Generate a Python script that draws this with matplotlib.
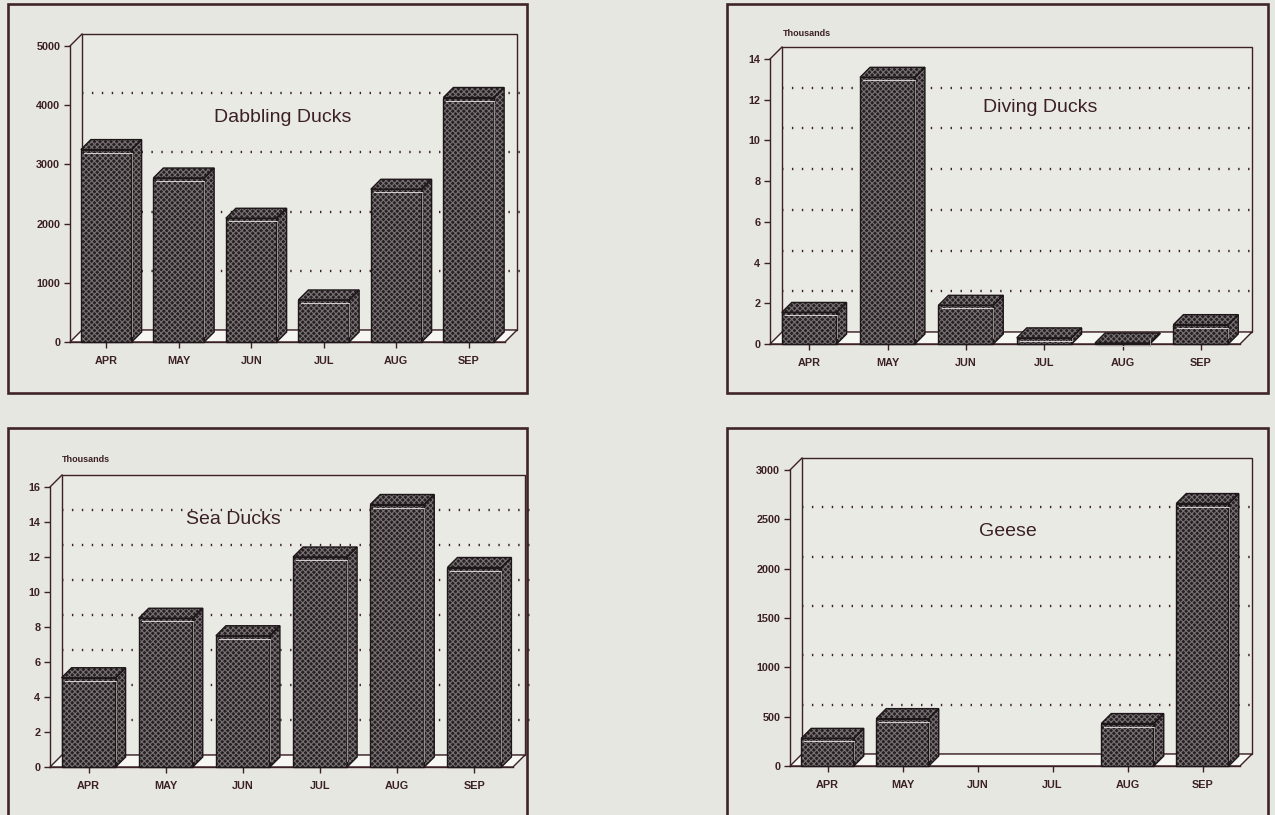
import matplotlib
matplotlib.use("Agg")
import matplotlib.pyplot as plt
from matplotlib.patches import Polygon, Rectangle

# ---- data -------------------------------------------------------------
months = ["APR", "MAY", "JUN", "JUL", "AUG", "SEP"]

dabbling = [3250, 2770, 2090, 710, 2580, 4130]
diving = [1.55, 13.1, 1.9, 0.3, 0.05, 0.95]      # thousands
sea = [5.1, 8.5, 7.5, 12.0, 15.0, 11.4]           # thousands
geese = [280, 480, 0, 0, 430, 2660]

dabbling_ticks = [0, 1000, 2000, 3000, 4000, 5000]
diving_ticks = [0, 2, 4, 6, 8, 10, 12, 14]
sea_ticks = [0, 2, 4, 6, 8, 10, 12, 14, 16]
geese_ticks = [0, 500, 1000, 1500, 2000, 2500, 3000]

titles = ["Dabbling Ducks", "Diving Ducks", "Sea Ducks", "Geese"]

# ---- style ------------------------------------------------------------
W, H, DPI = 1275, 815, 100
BG = "#e7e7e1"
WALL = "#eaeae5"
FLOOR = "#f6f6f2"
INK = "#3b2025"
FRAME = "#3f2529"
BAR = "#272022"
HATCH = "#777173"
FONT = "Liberation Sans"
DEPTH = 12      # px, floor / back wall offset
BAR_DEPTH = 10  # px
BAR_W = 0.70

plt.rcParams["hatch.linewidth"] = 0.8
plt.rcParams["font.family"] = [FONT, "DejaVu Sans"]

fig = plt.figure(figsize=(W / DPI, H / DPI), dpi=DPI, facecolor=BG)


def fx(x):
    return x / W


def fy(y):
    return 1 - y / H


def frame(x0, y0, x1, y1):
    fig.add_artist(Rectangle((fx(x0), fy(y1)), fx(x1) - fx(x0), fy(y0) - fy(y1),
                             transform=fig.transFigure, fill=False,
                             ec=FRAME, lw=1.9, zorder=0))


def panel(box, plot, values, ticks, title, title_xy, thousands_xy=None):
    frame(*box)
    x0, x1, base, top = plot
    ymax = ticks[-1]
    ax = fig.add_axes([fx(x0), fy(base), fx(x1) - fx(x0), fy(top) - fy(base)])
    ax.set_xlim(-0.5, 5.5)
    ax.set_ylim(0, ymax)
    ax.patch.set_visible(False)
    for s in ("top", "right"):
        ax.spines[s].set_visible(False)
    for s in ("left", "bottom"):
        ax.spines[s].set_color(INK)
        ax.spines[s].set_linewidth(1.0)
        ax.spines[s].set_zorder(2.6)

    pxx = (x1 - x0) / 6.0
    pxy = (base - top) / ymax
    dx, dy = DEPTH / pxx, DEPTH / pxy
    bdx, bdy = BAR_DEPTH / pxx, BAR_DEPTH / pxy

    # back wall
    ax.add_patch(Polygon([(-0.5 + dx, dy), (5.5 + dx, dy), (5.5 + dx, ymax + dy),
                          (-0.5 + dx, ymax + dy)], closed=True, fc=WALL,
                         ec=INK, lw=1.0, zorder=1, clip_on=False))
    ax.plot([-0.5, -0.5 + dx], [ymax, ymax + dy], color=INK, lw=1.0,
            clip_on=False, zorder=1.2)

    # dotted grid on the back wall
    for t in ticks[1:-1]:
        ax.plot([-0.5 + dx, 5.5 + dx + 0.07], [t + dy, t + dy], color=INK,
                lw=1.7, dashes=(0.6, 3.6), clip_on=False, zorder=1.5)

    # floor
    ax.add_patch(Polygon([(-0.5, 0), (5.5, 0), (5.5 + dx, dy), (-0.5 + dx, dy)],
                         closed=True, fc=FLOOR, ec=INK, lw=1.0, zorder=2,
                         clip_on=False))

    # 3-D bars
    for i, v in enumerate(values):
        if v <= 0:
            continue
        xl, xr = i - BAR_W / 2, i + BAR_W / 2
        faces = [
            [(xl, 0), (xr, 0), (xr, v), (xl, v)],
            [(xl, v), (xr, v), (xr + bdx, v + bdy), (xl + bdx, v + bdy)],
            [(xr, 0), (xr + bdx, bdy), (xr + bdx, v + bdy), (xr, v)],
        ]
        for f in faces:
            ax.add_patch(Polygon(f, closed=True, fc=BAR, ec=HATCH, lw=0,
                                 hatch="xxxxxx", zorder=3, clip_on=False))
            ax.add_patch(Polygon(f, closed=True, fill=False, ec="#1e1719",
                                 lw=1.0, zorder=3.1, clip_on=False))
        ax.plot([xl + 0.04, xr], [v - 0.3 * bdy, v - 0.3 * bdy],
                color="#d6d2d2", lw=0.7, zorder=3.2, clip_on=False)
        ax.plot([xr, xr], [0.02 * ymax, v - 0.3 * bdy], color="#a9a3a4",
                lw=0.6, zorder=3.2, clip_on=False)

    # axes ticks and labels
    ax.set_yticks(ticks)
    ax.set_yticklabels([str(t) for t in ticks], fontsize=7.8,
                       fontweight="bold", color=INK)
    ax.set_xticks(range(6))
    ax.set_xticklabels(months, fontsize=7.8, fontweight="bold", color=INK)
    ax.tick_params(axis="y", length=4, width=1.0, color=INK, pad=3)
    ax.tick_params(axis="x", length=4, width=1.0, color=INK, pad=6)

    fig.text(fx(title_xy[0]), fy(title_xy[1]), title, fontsize=14,
             color=INK, ha="center", va="center")
    if thousands_xy is not None:
        fig.text(fx(thousands_xy[0]), fy(thousands_xy[1]), "Thousands",
                 fontsize=6.5, fontweight="bold", color=INK,
                 ha="left", va="center")
    return ax


panel((8, 4, 527, 393), (70, 505, 342, 46), dabbling, dabbling_ticks,
      titles[0], (283, 118))
panel((727, 4, 1268, 393), (770, 1240, 344, 59), diving, diving_ticks,
      titles[1], (1040, 108), thousands_xy=(783, 34))
panel((8, 428, 527, 830), (50, 513, 767, 487), sea, sea_ticks,
      titles[2], (233, 520), thousands_xy=(62, 459))
panel((727, 428, 1268, 830), (790, 1240, 766, 470), geese, geese_ticks,
      titles[3], (1008, 531))

fig.savefig("out.png", dpi=DPI, facecolor=BG)
